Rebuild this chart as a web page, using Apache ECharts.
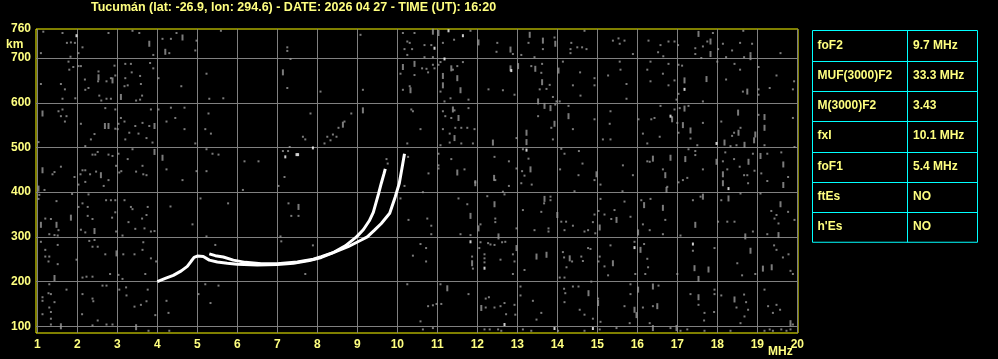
<!DOCTYPE html>
<html><head><meta charset="utf-8">
<script src="https://cdn.jsdelivr.net/npm/echarts@6/dist/echarts.min.js"></script>
<style>html,body{margin:0;padding:0;background:#000;}#c{width:998px;height:359px;}</style>
</head><body><div id="c"></div>
<script>
const titleText = 'Tucumán (lat: -26.9, lon: 294.6) - DATE: 2026 04 27 - TIME (UT): 16:20';
const freqTicks = [1,2,3,4,5,6,7,8,9,10,11,12,13,14,15,16,17,18,19,20];
const heightTicks = [100,200,300,400,500,600,700];
const heightTopLabel = 760;
const paramNames = ['foF2','MUF(3000)F2','M(3000)F2','fxI','foF1','ftEs',"h'Es"];
const paramValues = ['9.7 MHz','33.3 MHz','3.43','10.1 MHz','5.4 MHz','NO','NO'];

// ordinary trace (MHz, km)
const traceO = [[4.0,200],[4.2,207],[4.4,214],[4.6,224],[4.75,234],[4.85,246],[4.92,254],[5.0,257],[5.15,256],[5.3,248],[5.5,244],[5.75,241],[6.0,239],[6.5,237],[7.0,238],[7.4,241],[7.8,247],[8.1,254],[8.4,265],[8.7,280],[8.98,300],[9.15,316],[9.3,336],[9.4,355],[9.53,396],[9.6,420],[9.67,442],[9.7,452]];
// extraordinary trace
const traceX = [[5.3,262],[5.45,258],[5.65,255],[5.9,248],[6.2,243],[6.6,240],[7.0,240],[7.5,244],[7.9,250],[8.1,256],[8.43,266],[8.77,278],[9.1,293],[9.25,300],[9.43,315],[9.6,330],[9.81,353],[9.95,390],[10.05,420],[10.12,455],[10.18,486]];

// background noise echoes (MHz, km)
const noiseDots = [
[1.15,759],[1.63,756],[1.74,734],[1.84,735],[1.94,734],[2.03,711],[2.13,724],[1.09,711],[1.83,703],[2.78,756],[3.38,761],[3.55,756],[3.90,707],[4.13,743],[4.30,711],[4.34,743],[4.48,756],[4.95,717],[4.98,739],[5.59,761],
[1.78,692],[1.80,674],[1.90,680],[2.03,682],[2.09,682],[1.09,642],[1.59,642],[1.69,630],[1.63,609],[1.95,610],[2.19,652],[2.28,633],[2.20,629],[2.53,670],[2.52,648],[2.73,648],[2.84,655],[2.93,683],[2.95,661],[2.55,616],[2.60,605],[2.73,609],[2.84,609],[3.20,687],[3.34,687],[3.20,655],[3.18,637],[3.26,639],[3.36,668],[3.57,660],[3.59,642],[3.47,605],[3.62,616],[3.82,689],[3.90,677],[4.03,655],[3.57,607],[4.60,637],[5.23,665],[5.65,610],[5.30,609],
[1.53,581],[1.59,570],[1.63,585],[1.73,570],[1.69,558],[2.09,553],[2.43,530],[2.34,518],[2.20,503],[2.70,588],[2.95,585],[2.95,542],[3.09,566],[3.03,553],[3.01,541],[3.18,558],[3.20,518],[3.45,548],[3.30,533],[3.63,555],[3.53,531],[3.80,548],[3.84,585],[3.73,521],[3.88,511],[4.03,585],[4.34,589],[4.23,558],[4.45,566],[4.68,589],[4.68,541],[4.95,509],[5.20,541],[5.28,576],[5.34,531],[1.03,512],
[1.38,440],[1.43,445],[1.59,457],[1.93,434],[2.13,449],[2.08,440],[2.20,449],[2.20,423],[2.03,417],[2.32,440],[2.51,490],[2.45,484],[2.38,484],[2.47,446],[2.78,484],[2.88,481],[2.78,427],[2.66,414],[2.97,459],[3.05,444],[3.03,486],[3.10,447],[3.26,474],[3.38,496],[3.47,446],[3.63,459],[3.65,440],[3.73,438],[4.23,451],[4.63,427],[4.98,447],[5.23,447],[5.38,486],[5.53,484],[5.23,496],[1.18,405],
[1.05,394],[1.03,385],[1.48,380],[1.87,396],[2.03,367],[2.13,375],[2.26,367],[2.28,395],[2.09,316],[2.20,310],[2.26,347],[2.38,340],[2.72,382],[2.84,382],[2.95,382],[2.95,355],[2.87,343],[2.97,312],[3.13,303],[3.18,382],[3.34,367],[3.38,362],[3.28,333],[3.45,318],[3.62,341],[3.68,319],[3.76,367],[3.73,349],[3.84,312],[3.93,313],[4.33,368],[4.88,328],[5.08,386],[5.23,301],[1.20,341],[1.34,340],[1.53,315],[1.30,306],[1.43,304],[1.51,303],
[1.09,289],[1.20,271],[1.20,256],[1.30,256],[1.51,282],[1.51,239],[1.28,245],[1.98,249],[2.30,291],[2.43,293],[2.38,278],[2.51,278],[2.70,261],[3.15,261],[2.82,217],[3.03,215],[3.13,206],[3.43,261],[3.63,271],[3.65,288],[3.84,252],[3.97,245],[3.70,217],[2.13,209],[2.23,211],[2.38,211],[5.45,282],
[1.30,194],[1.13,165],[1.13,157],[1.28,174],[1.34,172],[1.30,142],[1.34,132],[1.13,127],[1.43,154],[1.73,182],[2.13,172],[2.38,162],[2.40,156],[2.12,127],[2.63,191],[2.73,191],[3.05,182],[3.22,187],[3.23,169],[3.43,144],[3.59,148],[3.73,156],[3.76,182],[3.95,125],[4.23,157],[4.28,130],[5.03,172],[5.20,194],[5.33,152],[5.53,191],[1.34,117],[1.34,104],[2.38,102],[2.51,113],[2.73,104],[2.88,104],[3.78,90],[4.30,90],
[9.08,752],[10.14,756],[10.43,756],[10.25,737],[10.31,734],[10.18,720],[10.37,720],[10.25,707],[7.25,724],[7.25,716],[7.33,698],[10.08,665],[10.43,662],[7.25,633],[8.08,625],[9.14,629],[10.14,629],[10.31,637],[10.39,581],[10.35,585],[7.83,576],[8.85,576],[8.68,558],[8.53,544],[8.39,529],[8.48,524],[8.33,516],[8.25,524],[8.18,509],[7.64,524],[7.70,518],[7.14,492],[7.27,492],[7.31,501],[6.18,469],[6.53,469],[7.18,434],[7.03,414],[6.14,405],[5.77,375],[10.25,509],[10.27,479],[9.73,474],[9.76,464],[10.18,414],[10.08,386],[7.28,375],[7.35,347],[7.53,347],[10.28,338],[7.08,301],[7.10,290],[7.89,281],[10.39,258],[7.70,217],[10.25,194],
[10.85,729],[10.68,729],[11.14,734],[11.42,741],[11.83,761],[12.50,734],[12.48,714],[12.89,709],[13.28,734],[13.64,720],[13.93,746],[14.68,761],[14.35,734],[14.33,720],[14.50,724],[14.62,724],[14.73,720],[14.33,711],[13.10,707],[13.43,702],
[10.68,702],[10.89,702],[10.62,677],[10.73,676],[10.89,685],[10.93,677],[11.08,691],[11.03,685],[10.77,668],[11.39,674],[11.50,682],[11.64,691],[11.08,625],[11.33,610],[11.18,603],[11.78,607],[12.28,630],[12.64,628],[12.93,618],[13.35,682],[13.62,687],[13.60,667],[13.56,630],[13.73,631],[13.81,640],[13.89,613],[14.14,692],[14.57,668],[14.93,655],[14.93,639],[14.39,639],[14.58,616],[13.98,603],[14.06,603],
[11.14,581],[11.43,583],[11.20,570],[11.35,566],[11.78,588],[11.14,541],[11.31,531],[11.45,544],[11.60,544],[11.75,544],[11.93,541],[11.31,511],[11.60,509],[11.89,509],[10.58,541],[11.08,505],[12.98,521],[13.52,570],[13.85,544],[14.28,593],[14.39,541],[14.93,563],[13.89,518],[15.14,518],[13.95,596],
[13.14,496],[13.28,475],[13.12,447],[13.18,437],[13.10,420],[13.36,417],[12.98,453],[12.79,469],[12.79,414],[12.43,479],[12.45,427],[11.95,422],[11.68,451],[11.35,474],[11.03,486],[11.03,460],[11.03,453],[10.78,442],[14.10,497],[14.18,486],[14.54,492],[14.63,464],[14.07,451],[14.53,438],[14.93,427],[14.43,402],[15.08,417],[10.64,400],
[11.53,386],[11.75,373],[12.25,391],[12.68,395],[12.64,401],[12.45,341],[12.45,333],[12.08,328],[10.75,341],[10.85,325],[10.85,306],[11.58,306],[11.83,304],[12.98,319],[13.14,360],[13.43,315],[13.60,356],[13.67,375],[13.83,390],[13.83,382],[13.78,319],[13.78,312],[14.10,334],[14.22,334],[14.18,315],[14.39,325],[14.68,312],[14.77,315],[14.89,333],[14.93,350],[15.08,385],[15.03,358],[14.95,308],[15.18,350],
[10.58,284],[10.72,275],[10.72,245],[11.87,256],[11.89,229],[12.08,288],[12.05,275],[12.18,261],[12.18,252],[12.18,243],[12.27,286],[12.33,283],[12.43,282],[12.62,288],[12.58,249],[12.70,289],[12.89,261],[12.93,245],[12.89,217],[13.18,226],[14.14,266],[14.17,254],[14.37,245],[14.23,232],[14.06,209],[14.18,209],[14.60,256],[14.64,246],[14.83,273],[15.06,256],[15.03,245],[15.18,234],[14.77,275],
[11.08,194],[11.78,172],[12.21,162],[12.29,165],[12.21,142],[12.43,142],[12.58,145],[12.68,152],[12.93,148],[12.72,127],[12.95,126],[13.08,169],[13.08,189],[10.89,147],[10.98,150],[11.10,150],[10.77,145],[13.39,157],[13.60,130],[13.48,115],[14.17,184],[14.20,174],[14.39,189],[14.53,189],[14.18,154],[14.56,137],[14.68,126],[14.85,200],[15.02,162],[14.89,117],[15.08,110],[10.58,111],
[12.18,93],[12.31,93],[12.52,93],[12.60,90],[13.35,90],[13.14,93],[14.02,90],[14.68,90],[15.06,93],[10.89,96],[10.64,93],
[15.39,739],[15.53,744],[15.68,739],[15.56,732],[15.89,709],[16.28,739],[16.58,729],[16.78,737],[16.93,737],[16.52,713],[16.65,704],[17.02,729],[17.45,722],[17.45,709],[17.64,726],[17.75,737],[17.89,756],[17.60,700],[18.02,720],[18.14,732],[18.37,717],[18.22,702],[18.57,734],[18.65,761],[18.67,702],[18.83,711],[18.87,732],[19.58,711],
[15.56,692],[15.58,674],[15.73,642],[15.27,661],[15.73,609],[16.33,692],[16.25,674],[16.33,648],[16.64,665],[16.78,687],[16.78,639],[16.93,650],[17.03,685],[17.12,683],[17.03,620],[16.98,607],[17.64,603],[18.00,692],[18.22,652],[18.43,687],[18.57,674],[18.64,625],[19.03,680],[19.03,630],[19.03,618],[19.31,633],[19.48,661],[19.92,648],[19.89,630],
[15.33,581],[15.31,553],[15.33,518],[16.03,563],[16.14,531],[16.35,563],[16.43,566],[16.56,524],[16.25,509],[16.58,593],[16.93,585],[17.06,588],[17.28,593],[17.03,533],[17.33,520],[17.50,505],[17.64,555],[17.00,555],[18.10,558],[18.37,526],[18.33,503],[18.42,533],[18.58,544],[18.48,505],[19.03,573],[19.18,505],[19.89,566],[19.93,501],
[15.64,460],[15.89,438],[16.25,469],[16.31,468],[16.64,451],[16.75,412],[17.03,422],[17.14,427],[17.25,432],[17.28,496],[17.45,492],[17.45,483],[17.64,451],[18.14,469],[18.20,489],[18.25,451],[18.42,474],[18.56,457],[18.67,438],[18.77,420],[18.75,438],[18.89,486],[18.93,448],[19.10,442],[19.25,486],[19.25,425],[19.60,489],[19.77,434],[15.63,402],[18.58,397],[19.08,397],
[15.43,360],[15.35,340],[15.83,345],[15.68,379],[16.10,382],[16.33,385],[16.14,328],[16.31,315],[16.70,338],[16.64,306],[17.39,382],[17.58,390],[17.08,303],[18.10,382],[18.02,334],[18.25,334],[18.43,334],[18.89,312],[19.25,306],[19.35,358],[19.48,349],[19.43,341],[19.53,330],[19.77,356],[19.93,338],
[15.93,289],[15.33,281],[15.27,214],[15.95,217],[16.17,284],[16.25,251],[16.27,232],[16.20,217],[17.00,217],[17.39,269],[17.93,275],[18.50,241],[18.62,214],[18.95,217],[19.42,281],[19.48,271],[19.64,254],[19.78,261],[19.89,217],[19.83,224],
[15.83,194],[15.83,172],[15.68,145],[16.14,142],[16.53,191],[16.39,145],[16.31,107],[17.33,172],[17.53,148],[17.93,182],[17.93,172],[17.92,132],[17.67,113],[17.68,130],[18.10,169],[18.48,142],[18.67,171],[18.72,154],[18.77,137],[18.68,122],[18.58,107],[19.18,182],[19.27,145],[19.48,148],[19.39,130],[19.57,137],[19.89,104],[15.48,96],[15.81,107],[16.83,96],[17.08,90],[17.25,93],[17.68,90],[18.33,90],[19.18,90],[19.31,93],[19.39,90],[19.60,93],[19.73,90],[19.83,93]
];
const noiseBars = [
[3.80,732],[4.20,714],[4.63,746],[2.53,657],[2.88,650],[3.09,613],[1.13,576],[2.69,548],[2.78,548],[3.93,548],[1.13,449],[2.59,438],[3.93,490],[4.13,477],[1.03,408],[1.84,343],[2.43,313],[1.09,327],[1.48,327],[2.98,263],[1.43,208],[1.59,100],[3.47,98],
[7.14,668],[10.14,680],[10.43,687],[10.33,628],[9.14,583],[8.64,551],[7.53,367],
[10.89,759],[11.03,756],[12.03,735],[12.83,719],[13.31,752],[13.64,739],[13.95,732],[11.35,677],[11.14,660],[11.14,639],[11.50,655],[11.58,628],[12.83,677],[13.02,682],[13.45,676],[13.62,646],[14.03,672],[13.52,603],[11.39,585],[11.53,566],[11.43,521],[12.39,511],[13.23,533],[13.23,512],[13.68,593],[13.83,588],[13.93,553],[14.28,570],[13.33,451],[12.42,432],[11.95,420],[11.50,444],[14.98,440],[12.43,373],[11.83,347],[12.03,319],[12.53,301],[13.68,385],[14.00,349],[15.06,321],[11.87,241],[12.98,275],[13.48,256],[13.73,260],[14.31,252],[11.25,185],[12.10,141],[14.78,174],[15.02,152],
[17.53,754],[17.83,737],[17.83,709],[18.83,702],[17.18,650],[17.73,653],[18.75,625],[16.87,563],[17.18,587],[17.14,550],[17.33,538],[18.18,511],[18.52,578],[18.53,533],[18.68,506],[18.92,516],[18.95,529],[19.18,568],[19.18,544],[16.39,475],[16.70,438],[16.73,405],[16.83,477],[17.20,474],[17.98,468],[18.14,440],[18.14,420],[18.78,468],[19.08,481],[19.65,462],[19.65,416],[15.48,338],[16.17,371],[16.02,310],[16.64,365],[17.45,327],[17.64,390],[18.28,386],[18.70,301],[19.53,304],[19.58,373],[15.39,241],[16.08,271],[17.43,230],[17.53,206],[17.78,227],[18.83,269],[19.14,229],[19.36,232],[16.02,182],[15.93,137],[15.98,125],[16.39,189],[16.50,145],[17.53,165],[18.43,160],[19.83,107],[16.39,96],[16.98,96]
];
const whiteDots = [
[1.98,750],[7.89,499],[7.20,479],[7.48,484],[7.52,484],
[11.28,761],[11.64,750],[10.93,722],[11.18,698],[12.85,672],[13.23,494],[11.83,289],[12.18,230],[12.68,104],[13.93,95],[14.89,95],
[17.18,630],[16.83,570],[17.98,509],[18.28,408],[15.93,276],[17.39,284]
];

const YELLOW_TEXT = '#ffff80';
const BORDER = '#ffff00';
const GRIDC = '#808080';
const NOISEC = '#9a9a9a';
const CYAN = '#00ffff';
const FONT = 'Liberation Sans';
const yMin = 85, yMax = 765;

const chart = echarts.init(document.getElementById('c'), null, {renderer: 'canvas'});

// table graphic (absolute pixel layout)
const tbl = {x: 812.5, y: 30.5, w: 165, colX: 907.5, rowH: 30.25};
const tableEls = [];
const tblH = tbl.rowH * paramNames.length;
tableEls.push({type: 'rect', x: 0, y: 0, shape: {x: tbl.x, y: tbl.y, width: tbl.w, height: tblH},
  style: {fill: 'transparent', stroke: CYAN, lineWidth: 1}, z: 10});
tableEls.push({type: 'line', x: 0, y: 0, shape: {x1: tbl.colX, y1: tbl.y, x2: tbl.colX, y2: tbl.y + tblH},
  style: {stroke: CYAN, lineWidth: 1}, z: 10});
paramNames.forEach((n, i) => {
  const yTop = tbl.y + i * tbl.rowH;
  if (i > 0) tableEls.push({type: 'line', x: 0, y: 0, shape: {x1: tbl.x, y1: Math.round(yTop) + 0.5, x2: tbl.x + tbl.w, y2: Math.round(yTop) + 0.5}, style: {stroke: CYAN, lineWidth: 1}, z: 10});
  const cy = Math.round(yTop + tbl.rowH / 2);
  tableEls.push({type: 'text', x: tbl.x + 5, y: cy, style: {text: n, fill: YELLOW_TEXT, font: 'bold 12px ' + FONT, verticalAlign: 'middle'}, z: 10});
  tableEls.push({type: 'text', x: tbl.colX + 5.5, y: cy, style: {text: paramValues[i], fill: YELLOW_TEXT, font: 'bold 12px ' + FONT, verticalAlign: 'middle'}, z: 10});
});

const option = {
  backgroundColor: '#000',
  animation: false,
  grid: {left: 36, right: 200, top: 29, bottom: 26, show: true, borderColor: BORDER, borderWidth: 1, backgroundColor: 'transparent'},
  xAxis: {
    type: 'value', min: 0.9675, max: 20.0175,
    axisLine: {show: false},
    axisTick: {show: false, customValues: freqTicks},
    splitLine: {show: true, lineStyle: {color: GRIDC, width: 1}},
    axisLabel: {customValues: freqTicks, color: YELLOW_TEXT, fontWeight: 'bold', fontSize: 12, fontFamily: FONT, margin: 6, showMinLabel: true, showMaxLabel: true}
  },
  yAxis: {
    type: 'value', min: yMin, max: yMax,
    axisLine: {show: false},
    axisTick: {show: false, customValues: heightTicks},
    splitLine: {show: true, lineStyle: {color: GRIDC, width: 1}},
    axisLabel: {customValues: heightTicks.concat([yMax]), color: YELLOW_TEXT, fontWeight: 'bold', fontSize: 12, fontFamily: FONT, margin: 5,
      showMinLabel: true, showMaxLabel: true,
      formatter: v => (v === yMax ? String(heightTopLabel) : String(v))}
  },
  graphic: [
    {type: 'text', x: 91, y: 1, style: {text: titleText, fill: YELLOW_TEXT, font: 'bold 12.5px ' + FONT}},
    {type: 'text', x: 6, y: 39, style: {text: 'km', fill: YELLOW_TEXT, font: 'bold 12px ' + FONT}},
    {type: 'text', x: 768, y: 346, style: {text: 'MHz', fill: YELLOW_TEXT, font: 'bold 12px ' + FONT}}
  ].concat(tableEls),
  series: [
    {type: 'scatter', data: noiseDots, symbol: 'rect', symbolSize: [2, 2], itemStyle: {color: NOISEC}, silent: true, z: 2},
    {type: 'scatter', data: noiseBars, symbol: 'rect', symbolSize: [2, 6], itemStyle: {color: NOISEC}, silent: true, z: 2},
    {type: 'scatter', data: whiteDots, symbol: 'rect', symbolSize: [2, 3], itemStyle: {color: '#ffffff'}, silent: true, z: 3},
    {type: 'line', data: traceO, showSymbol: false, symbol: 'none', lineStyle: {color: '#ffffff', width: 3}, silent: true, z: 4},
    {type: 'line', data: traceX, showSymbol: false, symbol: 'none', lineStyle: {color: '#ffffff', width: 3}, silent: true, z: 4}
  ]
};
chart.setOption(option);
</script>
</body></html>
